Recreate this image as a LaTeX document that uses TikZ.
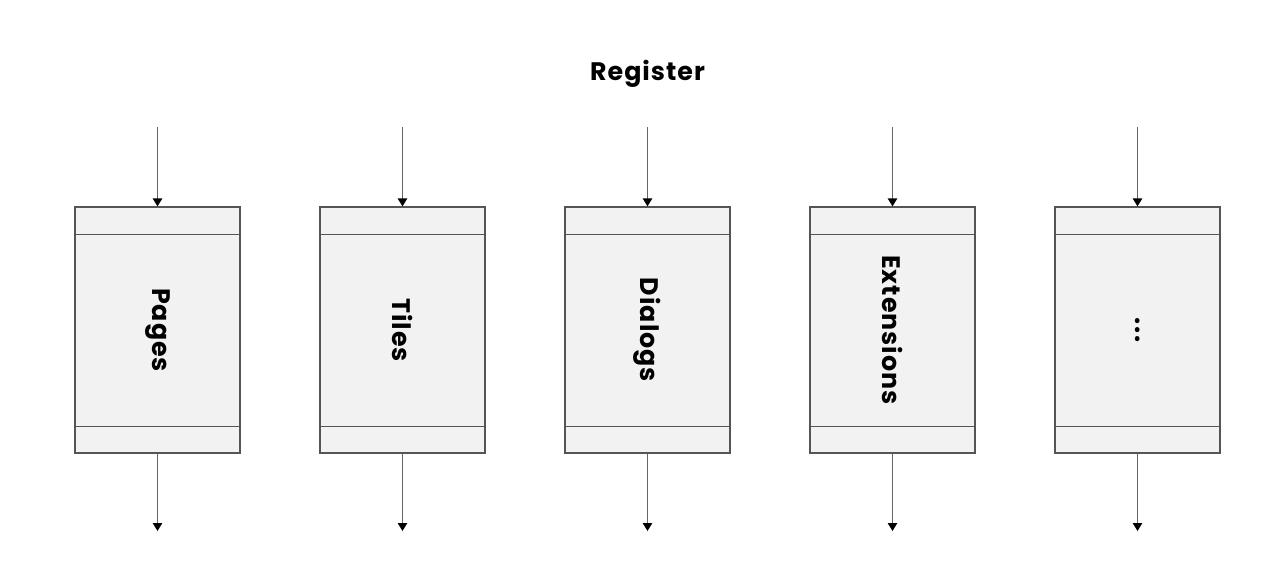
\documentclass[tikz,border=0pt]{standalone}
\usepackage{fontspec}
\setmainfont{Poppins}[LetterSpace=4]
\usetikzlibrary{arrows.meta}
\definecolor{boxfill}{HTML}{F2F2F2}
\definecolor{boxline}{HTML}{555555}
\definecolor{arrline}{HTML}{666666}
\tikzset{
  compbox/.style={draw=boxline, fill=boxfill, line width=0.9pt, minimum width=123.75pt, minimum height=184.5pt, inner sep=0pt},
  flowarrow/.style={draw=arrline, line width=1.2pt, -{Triangle[length=6pt,width=7pt,fill=black,color=black]}},
  lbl/.style={font=\fontsize{19}{22}\selectfont\bfseries, rotate=-90},
}
\begin{document}
\begin{tikzpicture}[x=0.75pt,y=-0.75pt]
\useasboundingbox (0,0) rectangle (1281,587);
\node[font=\fontsize{19}{22}\selectfont\bfseries] (title) at (647.5,74) {Register};
\foreach \i/\t in {0/Pages,1/Tiles,2/Dialogs,3/Extensions,4/{.\kern1.5pt.\kern1.5pt.}}{
  \pgfmathsetmacro{\cx}{157.5+245*\i}
  \node[compbox] (b\i) at (\cx,330) {};
  \draw[boxline, line width=0.9pt] ([yshift=-21pt]b\i.north west) -- ([yshift=-21pt]b\i.north east);
  \draw[boxline, line width=0.9pt] ([yshift=20.25pt]b\i.south west) -- ([yshift=20.25pt]b\i.south east);
  \node[lbl] (t\i) at (\cx,330) {\t};
  \coordinate (in\i) at (\cx,127);
  \coordinate (out\i) at (\cx,531);
  \draw[flowarrow] (in\i) -- (b\i.north);
  \draw[flowarrow] (b\i.south) -- (out\i);
}
\end{tikzpicture}
\end{document}
